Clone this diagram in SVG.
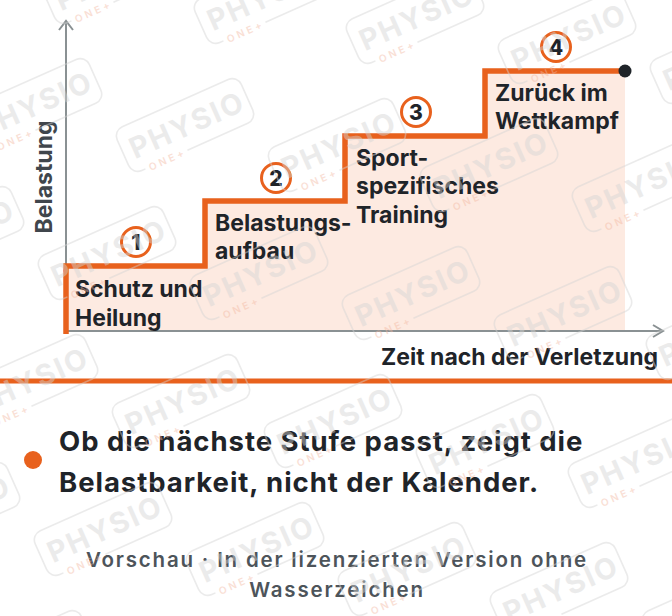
<svg xmlns="http://www.w3.org/2000/svg" xmlns:xlink="http://www.w3.org/1999/xlink" width="672" height="616" viewBox="0 0 672 616">
<style>
.lbl{font-family:Inter,"Liberation Sans",sans-serif;font-weight:700;font-size:23px;fill:#1f2429}
.num{font-family:Inter,"Liberation Sans",sans-serif;font-weight:800;font-size:21px;fill:#1f2429;text-anchor:middle}
.ring{fill:#ffffff;stroke:#e8611d;stroke-width:3}
.axis{fill:none;stroke:#8a9193;stroke-width:2}
.big{font-family:Inter,"Liberation Sans",sans-serif;font-weight:700;font-size:27.5px;letter-spacing:0.95px;fill:#1f2429}
.foot{font-family:Inter,"Liberation Sans",sans-serif;font-weight:600;font-size:20.5px;letter-spacing:1.8px;fill:#4d545a;text-anchor:middle}
.wmt{font-family:Inter,"Liberation Sans",sans-serif;font-weight:700;font-size:29px;letter-spacing:2px;fill:#d4d4d4;text-anchor:middle}
.wmo{font-family:Inter,"Liberation Sans",sans-serif;font-weight:600;font-size:10px;letter-spacing:3px;fill:#f3b9a3}
.wmb{fill:none;stroke:#d4d4d4;stroke-width:1.6}
</style>
<defs>
<g id="wm" opacity="0.45">
<path class="wmb" d="M-8 24 H58 A10 10 0 0 0 68 14 V-14 A10 10 0 0 0 58 -24 H-58 A10 10 0 0 0 -68 -14 V14 A10 10 0 0 0 -58 24 H-54"/>
<text class="wmt" x="2" y="11">PHYSIO</text>
<text class="wmo" x="-50" y="28">ONE+</text>
</g>
</defs>
<rect width="672" height="616" fill="#ffffff"/>
<g id="chart-fill">
<path d="M65 331 V266 H205 V201 H345 V136 H485 V71 H625 V331 Z" fill="#fdeae1"/>
</g>
<g id="axes">
<path class="axis" d="M66 331 V21"/>
<path class="axis" d="M59 30 L66 21 L73 30"/>
<path class="axis" d="M65 331 H663"/>
<path class="axis" d="M653 325 L663 331 L653 337"/>
<text class="lbl" transform="translate(52 177) rotate(-90)" text-anchor="middle" style="fill:#40464c">Belastung</text>
<text class="lbl" x="658" y="365" text-anchor="end">Zeit nach der Verletzung</text>
</g>
<g id="connectors">
<path d="M66 334 V266 H205 V201 H345 V136 H485 V71 H622" fill="none" stroke="#e8611d" stroke-width="5.5" stroke-linejoin="miter"/>
<circle cx="625" cy="71" r="6.5" fill="#1f2429"/>
</g>
<g id="step1">
<circle class="ring" cx="136" cy="242" r="14.5"/>
<text class="num" x="136" y="249.5">1</text>
<text class="lbl" x="75" y="297">Schutz und</text>
<text class="lbl" x="75" y="326">Heilung</text>
</g>
<g id="step2">
<circle class="ring" cx="276" cy="178" r="14.5"/>
<text class="num" x="276" y="185.5">2</text>
<text class="lbl" x="215" y="231">Belastungs-</text>
<text class="lbl" x="215" y="259">aufbau</text>
</g>
<g id="step3">
<circle class="ring" cx="416" cy="112" r="14.5"/>
<text class="num" x="416" y="119.5">3</text>
<text class="lbl" x="356" y="166">Sport-</text>
<text class="lbl" x="356" y="194">spezifisches</text>
<text class="lbl" x="356" y="223">Training</text>
</g>
<g id="step4">
<circle class="ring" cx="556" cy="47" r="14.5"/>
<text class="num" x="556" y="54.5">4</text>
<text class="lbl" x="495" y="101">Zurück im</text>
<text class="lbl" x="495" y="129">Wettkampf</text>
</g>
<g id="divider">
<rect x="0" y="378.5" width="672" height="5" fill="#e8611d"/>
</g>
<g id="takeaway">
<circle cx="33" cy="460" r="9" fill="#e8611d"/>
<text class="big" x="59" y="451">Ob die nächste Stufe passt, zeigt die</text>
<text class="big" x="59" y="492">Belastbarkeit, nicht der Kalender.</text>
</g>
<g id="footer">
<text class="foot" x="337" y="567">Vorschau · In der lizenzierten Version ohne</text>
<text class="foot" x="337" y="597">Wasserzeichen</text>
</g>
<g id="watermarks">
<use xlink:href="#wm" transform="translate(111 -23) rotate(-24)"/>
<use xlink:href="#wm" transform="translate(263 -3) rotate(-24)"/>
<use xlink:href="#wm" transform="translate(415 17) rotate(-24)"/>
<use xlink:href="#wm" transform="translate(567 37) rotate(-24)"/>
<use xlink:href="#wm" transform="translate(719 57) rotate(-24)"/>
<use xlink:href="#wm" transform="translate(33 105) rotate(-24)"/>
<use xlink:href="#wm" transform="translate(185 125) rotate(-24)"/>
<use xlink:href="#wm" transform="translate(337 145) rotate(-24)"/>
<use xlink:href="#wm" transform="translate(489 165) rotate(-24)"/>
<use xlink:href="#wm" transform="translate(641 185) rotate(-24)"/>
<use xlink:href="#wm" transform="translate(-45 233) rotate(-24)"/>
<use xlink:href="#wm" transform="translate(107 253) rotate(-24)"/>
<use xlink:href="#wm" transform="translate(259 273) rotate(-24)"/>
<use xlink:href="#wm" transform="translate(411 293) rotate(-24)"/>
<use xlink:href="#wm" transform="translate(563 313) rotate(-24)"/>
<use xlink:href="#wm" transform="translate(715 333) rotate(-24)"/>
<use xlink:href="#wm" transform="translate(29 381) rotate(-24)"/>
<use xlink:href="#wm" transform="translate(181 401) rotate(-24)"/>
<use xlink:href="#wm" transform="translate(333 421) rotate(-24)"/>
<use xlink:href="#wm" transform="translate(485 441) rotate(-24)"/>
<use xlink:href="#wm" transform="translate(637 461) rotate(-24)"/>
<use xlink:href="#wm" transform="translate(-49 509) rotate(-24)"/>
<use xlink:href="#wm" transform="translate(103 529) rotate(-24)"/>
<use xlink:href="#wm" transform="translate(255 549) rotate(-24)"/>
<use xlink:href="#wm" transform="translate(407 569) rotate(-24)"/>
<use xlink:href="#wm" transform="translate(559 589) rotate(-24)"/>
<use xlink:href="#wm" transform="translate(711 609) rotate(-24)"/>
<use xlink:href="#wm" transform="translate(25 657) rotate(-24)"/>
</g>
</svg>
